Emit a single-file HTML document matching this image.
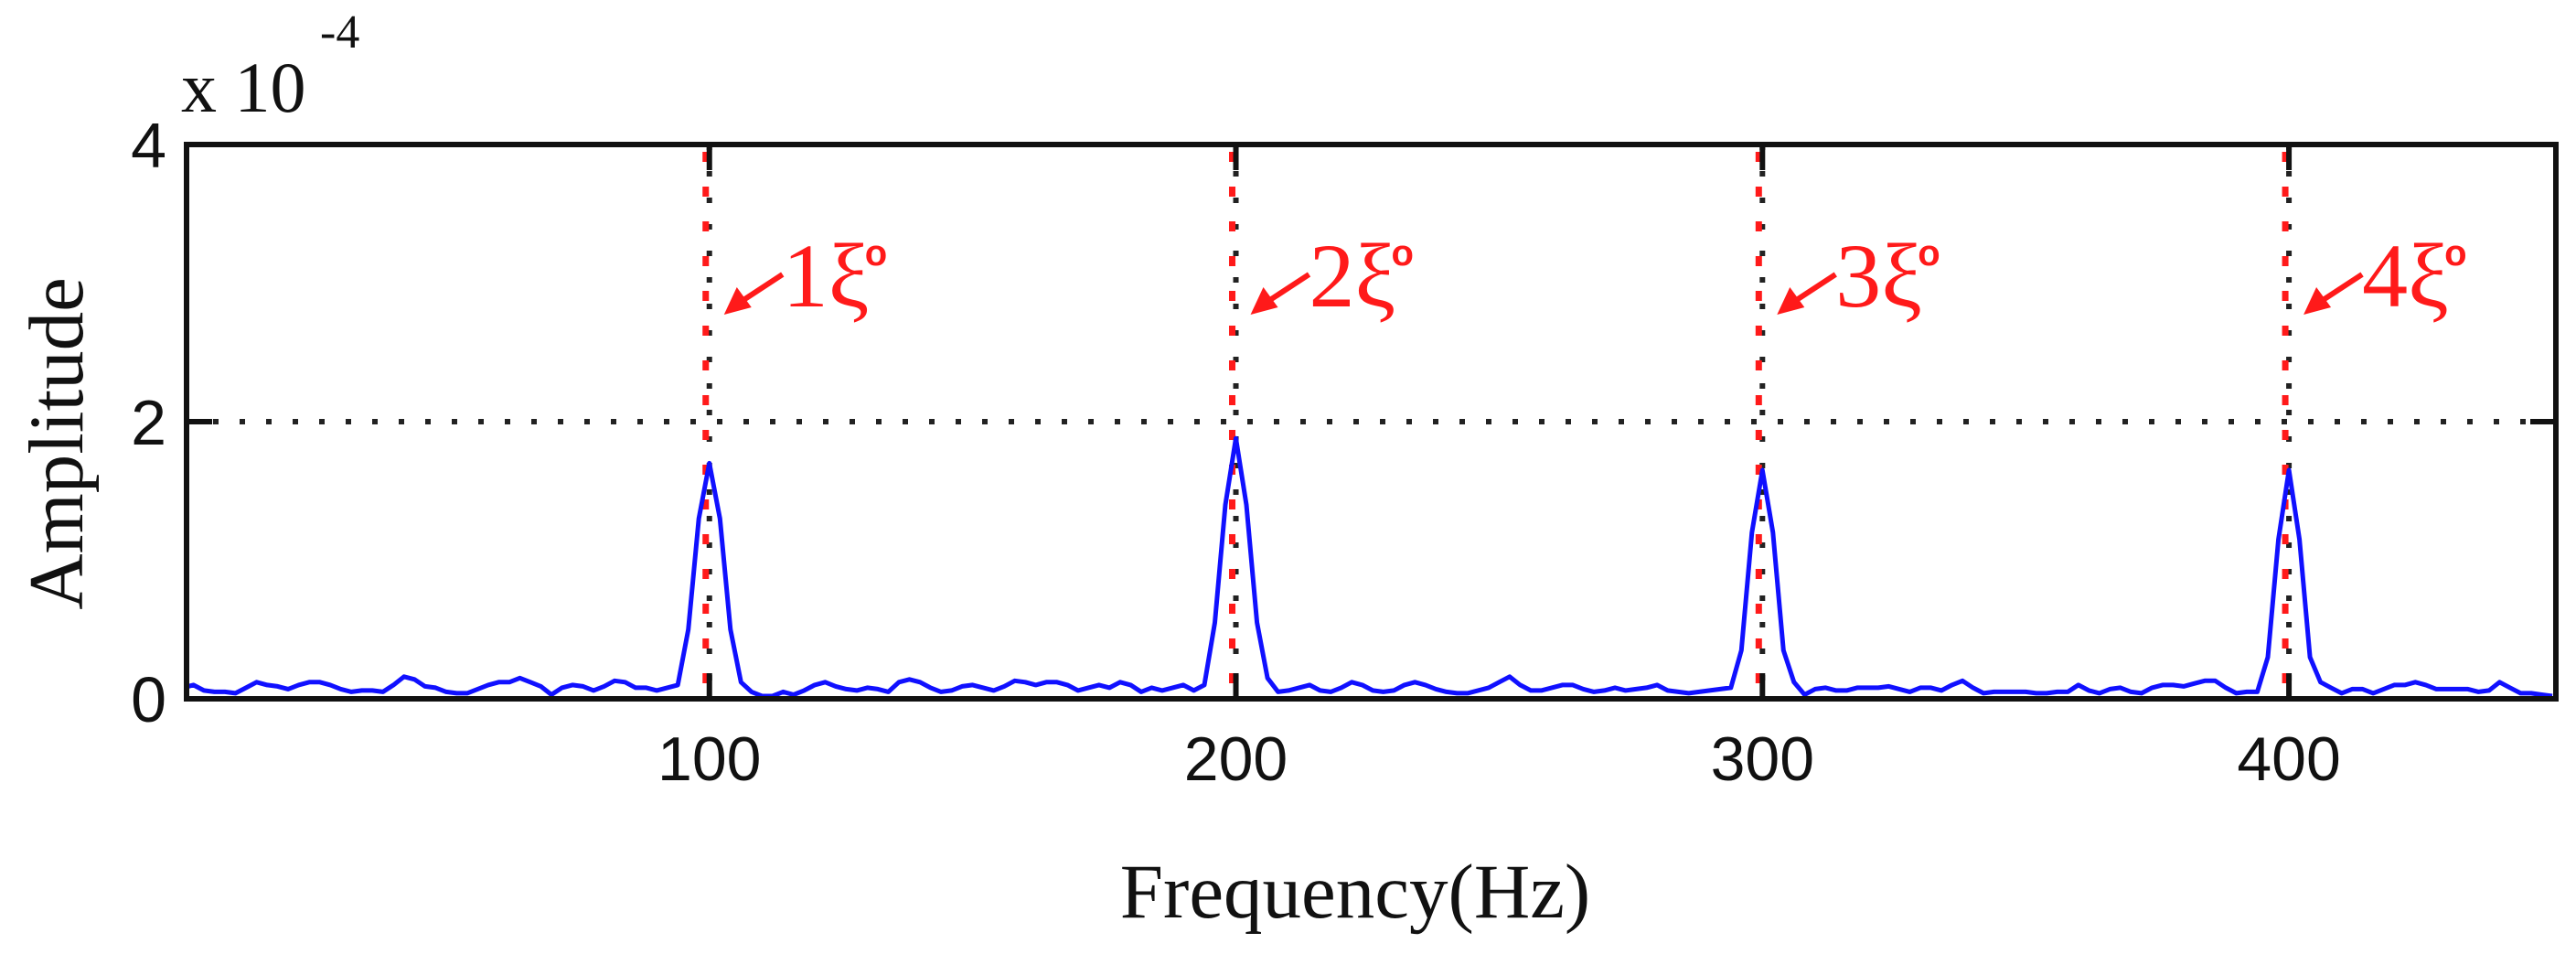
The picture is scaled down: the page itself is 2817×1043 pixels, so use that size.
<!DOCTYPE html>
<html><head><meta charset="utf-8"><style>
html,body{margin:0;padding:0;background:#fff;}
svg{display:block;}
</style></head><body>
<svg id="chart" width="2817" height="1043" viewBox="0 0 2817 1043" xmlns="http://www.w3.org/2000/svg"></svg>
<script>
// Data (amplitude in units of 1e-4), frequency step 2 Hz starting at 0
const freqStart = 0;
const freqStep = 2;
const amplitude = [
 // 0..92 Hz
 0.08,0.1,0.06,0.05,0.05,0.04,0.08,0.12,0.1,0.09,
 0.07,0.1,0.12,0.12,0.1,0.07,0.05,0.06,0.06,0.05,
 0.1,0.16,0.14,0.09,0.08,0.05,0.04,0.04,0.07,0.1,
 0.12,0.12,0.15,0.12,0.09,0.03,0.08,0.1,0.09,0.06,
 0.09,0.13,0.12,0.08,0.08,0.06,0.08,
 // 94..106 Hz (1st harmonic)
 0.1,0.5,1.3,1.7,1.3,0.5,0.12,
 // 108..192 Hz
 0.05,0.02,0.02,0.05,0.03,0.06,0.1,0.12,0.09,0.07,
 0.06,0.08,0.07,0.05,0.12,0.14,0.12,0.08,0.05,0.06,
 0.09,0.1,0.08,0.06,0.09,0.13,0.12,0.1,0.12,0.12,
 0.1,0.06,0.08,0.1,0.08,0.12,0.1,0.05,0.08,0.06,
 0.08,0.1,0.06,
 // 194..206 Hz (2nd harmonic)
 0.1,0.55,1.4,1.88,1.4,0.55,0.15,
 // 208..292 Hz
 0.05,0.06,0.08,0.1,0.06,0.05,0.08,0.12,0.1,0.06,
 0.05,0.06,0.1,0.12,0.1,0.07,0.05,0.04,0.04,0.06,
 0.08,0.12,0.16,0.1,0.06,0.06,0.08,0.1,0.1,0.07,
 0.05,0.06,0.08,0.06,0.07,0.08,0.1,0.06,0.05,0.04,
 0.05,0.06,0.07,
 // 294..306 Hz (3rd harmonic)
 0.08,0.35,1.2,1.65,1.2,0.35,0.12,
 // 308..392 Hz
 0.03,0.07,0.08,0.06,0.06,0.08,0.08,0.08,0.09,0.07,
 0.05,0.08,0.08,0.06,0.1,0.13,0.08,0.04,0.05,0.05,
 0.05,0.05,0.04,0.04,0.05,0.05,0.1,0.06,0.04,0.07,
 0.08,0.05,0.04,0.08,0.1,0.1,0.09,0.11,0.13,0.13,
 0.08,0.04,0.05,
 // 394..406 Hz (4th harmonic)
 0.05,0.3,1.15,1.65,1.15,0.3,0.12,
 // 408..450 Hz
 0.08,0.04,0.07,0.07,0.04,0.07,0.1,0.1,0.12,0.1,
 0.07,0.07,0.07,0.07,0.05,0.06,0.12,0.08,0.04,0.04,
 0.03,0.02
];
const xTickValues = [100,200,300,400];
const yTickValues = [0,2,4];
const harmonicFreqs = [100,200,300,400];
const harmonicLabels = ["1","2","3","4"];

const svg = document.getElementById('chart');
const NS = 'http://www.w3.org/2000/svg';
const L=204,R=2795,T=158,B=764;
const xMin=0.7,xMax=450.7,yMin=0,yMax=4;
function xs(v){return L+(v-xMin)/(xMax-xMin)*(R-L);}
function ys(v){return B-(v-yMin)/(yMax-yMin)*(B-T);}
function mk(tag,attrs,parent){const e=document.createElementNS(NS,tag);for(const k in attrs)e.setAttribute(k,attrs[k]);(parent||svg).appendChild(e);return e;}

const defs=mk('defs',{});
const cp=mk('clipPath',{id:'plotclip'},defs);
mk('rect',{x:L,y:T,width:R-L,height:B-T},cp);

let g=mk('line',{x1:L,x2:R,y1:ys(2),y2:ys(2),stroke:'#222','stroke-width':6,'stroke-dasharray':'6 23'});


xTickValues.forEach(v=>{
  const l=mk('line',{x1:xs(v),x2:xs(v),y1:T,y2:B,stroke:'#222','stroke-width':6,'stroke-dasharray':'6 23'});
  
  
});
harmonicFreqs.forEach((f,i)=>{
  const l=mk('line',{x1:xs(f)-4,x2:xs(f)-4,y1:T+8,y2:B,stroke:'#ff1a1a','stroke-width':7,'stroke-dasharray':'11 27'});
  
  
});
let d='';
amplitude.forEach((a,i)=>{const f=freqStart+i*freqStep;d+=(i?'L':'M')+xs(f).toFixed(1)+' '+ys(a).toFixed(1);});
const p=mk('path',{d:d,fill:'none',stroke:'#1010ff','stroke-width':5,'stroke-linejoin':'round','clip-path':'url(#plotclip)'});



const box=mk('rect',{x:L,y:T,width:R-L,height:B-T,fill:'none',stroke:'#111','stroke-width':6});


xTickValues.forEach(v=>{
  mk('line',{x1:xs(v),x2:xs(v),y1:B,y2:B-28,stroke:'#111','stroke-width':6});
  mk('line',{x1:xs(v),x2:xs(v),y1:T,y2:T+28,stroke:'#111','stroke-width':6});
  const t=mk('text',{x:xs(v),y:853,'text-anchor':'middle','font-family':'Liberation Sans, sans-serif','font-size':68,fill:'#111'});
  t.textContent=v;
  
  
});
yTickValues.forEach(v=>{
  mk('line',{x1:L,x2:L+28,y1:ys(v),y2:ys(v),stroke:'#111','stroke-width':6});
  mk('line',{x1:R,x2:R-28,y1:ys(v),y2:ys(v),stroke:'#111','stroke-width':6});
  const t=mk('text',{x:182,y:ys(v)+25,'text-anchor':'end','font-family':'Liberation Sans, sans-serif','font-size':70,fill:'#111'});
  t.textContent=v;
  
  
});
const ex=mk('text',{x:198,y:122,'font-family':'Liberation Serif, serif','font-size':78,fill:'#111'});
ex.textContent='x 10';


const ex2=mk('text',{x:350,y:52,'font-family':'Liberation Serif, serif','font-size':52,fill:'#111'});
ex2.textContent='-4';


const xt=mk('text',{x:1482,y:1003,'text-anchor':'middle','font-family':'Liberation Serif, serif','font-size':85,fill:'#111'});
xt.textContent='Frequency(Hz)';


const yt=mk('text',{x:0,y:0,'text-anchor':'middle','font-family':'Liberation Serif, serif','font-size':85,fill:'#111',transform:'translate(90,485) rotate(-90)'});
yt.textContent='Amplitude';



harmonicFreqs.forEach((f,i)=>{
  const x0=xs(f);
  const ag=mk('g',{});
  
  
  mk('line',{x1:x0+22,y1:338,x2:x0+80,y2:300,stroke:'#ff1a1a','stroke-width':6},ag);
  mk('polygon',{points:(x0+16)+',344 '+(x0+30)+',314 '+(x0+46)+',336',fill:'#ff1a1a'},ag);
  const t=mk('text',{x:x0+80,y:335,'font-family':'Liberation Serif, serif','font-size':100,fill:'#ff1a1a'},ag);
  t.textContent=harmonicLabels[i]+'ξ';
  const o=mk('text',{x:x0+170,y:290,'font-family':'Liberation Sans, sans-serif','font-size':40,'font-weight':'bold',fill:'#ff1a1a'},ag);
  o.textContent='o';
});
</script>
</body></html>
